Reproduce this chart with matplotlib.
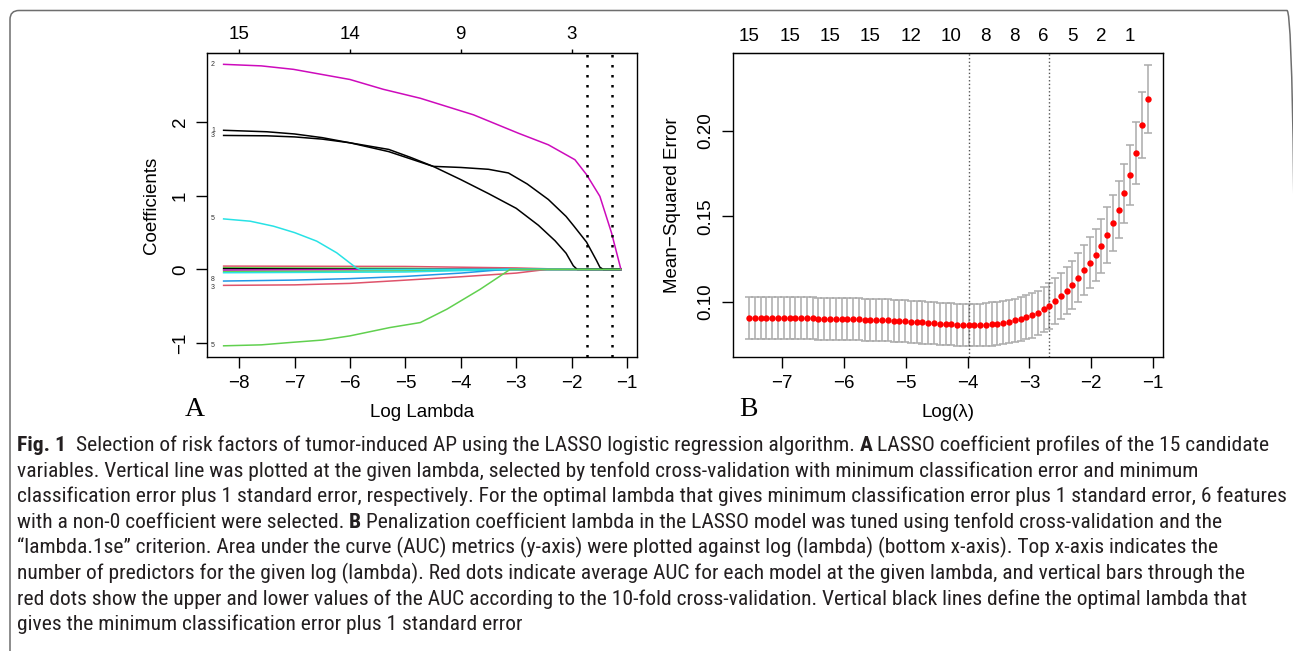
import matplotlib
matplotlib.use("Agg")
import matplotlib.pyplot as plt
from matplotlib import font_manager as fm
from matplotlib.patches import FancyBboxPatch

W, H = 1293, 651

# ---- panel A: coefficient paths (log lambda, coefficient) ----
A_PATHS = [
    # (colour, label, x, y)
    ("#DF536B", "", [-8.28, -5.0, -3.0, -2.0, -1.11], [0.045, 0.040, 0.020, 0.0, 0.0]),
    ("#61D04F", "", [-8.28, -5.0, -3.5, -1.11], [0.023, 0.015, 0.0, 0.0]),
    ("#000000", "", [-8.28, -4.5, -1.11], [0.010, 0.0, 0.0]),
    ("#CD0BBC", "", [-8.28, -4.0, -1.11], [-0.010, 0.0, 0.0]),
    ("#61D04F", "", [-8.28, -5.0, -3.2, -1.11], [-0.030, -0.020, 0.0, 0.0]),
    ("#28E2E5", "", [-8.28, -5.0, -3.1, -1.11], [-0.045, -0.035, 0.0, 0.0]),
    ("#2297E6", "8", [-8.28, -7.0, -6.0, -5.0, -4.0, -3.2, -1.11],
     [-0.158, -0.145, -0.125, -0.095, -0.050, 0.0, 0.0]),
    ("#DF536B", "3", [-8.28, -7.0, -6.0, -5.09, -4.0, -3.0, -2.45, -1.11],
     [-0.217, -0.210, -0.190, -0.150, -0.100, -0.050, 0.0, 0.0]),
    ("#28E2E5", "5", [-8.28, -7.8, -7.38, -7.0, -6.6, -6.24, -5.89, -5.82, -1.11],
     [0.686, 0.655, 0.587, 0.500, 0.384, 0.226, 0.023, 0.0, 0.0]),
    ("#000000", "1", [-8.28, -7.5, -7.0, -6.5, -6.0, -5.3, -4.9, -4.5, -4.0, -3.5, -3.14,
                      -2.8, -2.42, -2.1, -1.96, -1.73, -1.55, -1.49, -1.43, -1.11],
     [1.89, 1.87, 1.84, 1.79, 1.72, 1.60, 1.50, 1.40, 1.385, 1.36, 1.31,
      1.16, 0.95, 0.72, 0.59, 0.37, 0.12, 0.03, 0.0, 0.0]),
    ("#000000", "3", [-8.28, -7.5, -7.0, -6.5, -6.0, -5.3, -4.9, -4.5, -4.0, -3.5, -3.0,
                      -2.6, -2.3, -2.1, -1.97, -1.9, -1.11],
     [1.82, 1.815, 1.80, 1.77, 1.72, 1.63, 1.52, 1.40, 1.22, 1.03, 0.83,
      0.60, 0.39, 0.22, 0.05, 0.0, 0.0]),
    ("#CD0BBC", "2", [-8.28, -7.6, -7.02, -6.0, -5.40, -4.73, -3.77, -2.96, -2.42, -1.94,
                      -1.73, -1.49, -1.28, -1.11],
     [2.786, 2.765, 2.718, 2.58, 2.447, 2.325, 2.10, 1.85, 1.693, 1.49,
      1.287, 0.993, 0.497, 0.0]),
    ("#61D04F", "5", [-8.28, -7.6, -7.08, -6.5, -6.0, -5.28, -4.73, -4.25, -3.65, -3.11, -1.11],
     [-1.038, -1.025, -0.993, -0.96, -0.903, -0.79, -0.722, -0.54, -0.27, 0.0, 0.0]),
]
# small vertical nudges for the tiny path labels so they do not collide
A_LABEL_NUDGE = {"8": 0.025, "3": -0.025}
A_VLINES = [-1.72, -1.27]
A_TOP_POS = [-8, -6, -4, -2]
A_TOP_LAB = ["15", "14", "9", "3"]

# ---- panel B: cross-validation curve ----
B_LOGLAM = [-7.534, -7.441, -7.347, -7.254, -7.160, -7.067, -6.974, -6.880, -6.787, -6.693,
            -6.600, -6.507, -6.413, -6.320, -6.226, -6.133, -6.040, -5.946, -5.853, -5.759,
            -5.666, -5.573, -5.479, -5.386, -5.292, -5.199, -5.106, -5.012, -4.919, -4.825,
            -4.732, -4.639, -4.545, -4.452, -4.358, -4.265, -4.172, -4.078, -3.985, -3.891,
            -3.798, -3.705, -3.611, -3.518, -3.424, -3.331, -3.238, -3.144, -3.051, -2.957,
            -2.864, -2.771, -2.677, -2.584, -2.490, -2.397, -2.304, -2.210, -2.117, -2.023,
            -1.930, -1.837, -1.743, -1.650, -1.556, -1.463, -1.370, -1.276, -1.183, -1.089]
B_MSE = [0.0906, 0.0906, 0.0906, 0.0906, 0.0906, 0.0905, 0.0905, 0.0905, 0.0904, 0.0904,
         0.0903, 0.0903, 0.0902, 0.0902, 0.0901, 0.0900, 0.0900, 0.0899, 0.0898, 0.0897,
         0.0896, 0.0895, 0.0894, 0.0893, 0.0891, 0.0890, 0.0888, 0.0886, 0.0884, 0.0882,
         0.0879, 0.0877, 0.0875, 0.0872, 0.0870, 0.0868, 0.0866, 0.0865, 0.0864, 0.0864,
         0.0865, 0.0867, 0.0870, 0.0873, 0.0878, 0.0884, 0.0891, 0.0899, 0.0909, 0.0921,
         0.0935, 0.0955, 0.0977, 0.1004, 0.1033, 0.1064, 0.1098, 0.1140, 0.1185, 0.1230,
         0.1273, 0.1326, 0.1390, 0.1462, 0.1540, 0.1634, 0.1740, 0.1870, 0.2033, 0.2187]
B_SD = [0.0123] * 38 + [0.0124, 0.0124, 0.0125, 0.0125, 0.0126, 0.0126, 0.0127, 0.0127,
                        0.0128, 0.0128, 0.0129, 0.0130, 0.0131, 0.0133,
                        0.0134, 0.0134, 0.0135, 0.0137, 0.0140, 0.0144, 0.0147, 0.0150,
                        0.0154, 0.0158, 0.0162, 0.0165, 0.0169, 0.0172, 0.0176, 0.0183,
                        0.0193, 0.0197]
B_VLINES = [-3.985, -2.677]
B_TOP_POS = [-7.534, -6.880, -6.226, -5.573, -4.919, -4.265, -3.705, -3.238, -2.771, -2.304,
             -1.837, -1.370]
B_TOP_LAB = ["15", "15", "15", "15", "12", "10", "8", "8", "6", "5", "2", "1"]

CAPTION = [
    [("Fig. 1", True), ("Selection of risk factors of tumor-induced AP using the LASSO logistic regression algorithm.", False),
     ("A", True), ("LASSO coefficient profiles of the 15 candidate", False)],
    [("variables. Vertical line was plotted at the given lambda, selected by tenfold cross-validation with minimum classification error and minimum", False)],
    [("classification error plus 1 standard error, respectively. For the optimal lambda that gives minimum classification error plus 1 standard error, 6 features", False)],
    [("with a non-0 coefficient were selected.", False), ("B", True),
     ("Penalization coefficient lambda in the LASSO model was tuned using tenfold cross-validation and the", False)],
    [("\u201clambda.1se\u201d criterion. Area under the curve (AUC) metrics (y-axis) were plotted against log (lambda) (bottom x-axis). Top x-axis indicates the", False)],
    [("number of predictors for the given log (lambda). Red dots indicate average AUC for each model at the given lambda, and vertical bars through the", False)],
    [("red dots show the upper and lower values of the AUC according to the 10-fold cross-validation. Vertical black lines define the optimal lambda that", False)],
    [("gives the minimum classification error plus 1 standard error", False)],
]
# right end (px) of each caption line in the reference
CAP_END = [1275, 1232, 1281, 1237, 1229, 1250, 1255, 640]


def pick_font(names):
    for n in names:
        try:
            fm.findfont(fm.FontProperties(family=n), fallback_to_default=False)
            return n
        except Exception:
            pass
    return "DejaVu Sans"


def caption_family():
    for n in ["Liberation Sans Narrow", "Arial Narrow", "Roboto Condensed"]:
        try:
            fm.findfont(fm.FontProperties(family=n), fallback_to_default=False)
            return n, "normal"
        except Exception:
            pass
    f = fm.findfont(fm.FontProperties(family="DejaVu Sans", stretch="condensed"))
    if "Condensed" in f:
        return "DejaVu Sans", "condensed"
    return pick_font(["Roboto", "Liberation Sans"]), "normal"


RFONT = pick_font(["Liberation Sans", "Arial", "DejaVu Sans"])
SERIF = pick_font(["Liberation Serif", "DejaVu Serif"])
CAPFAM, CAPSTRETCH = caption_family()
plt.rcParams["font.family"] = RFONT
TICK = 13.5


def style_axes(ax):
    for s in ax.spines.values():
        s.set_linewidth(1.0)
    ax.tick_params(direction="out", length=8, width=1.0, labelsize=TICK, pad=5)
    for lab in ax.get_yticklabels():
        lab.set_rotation(90)
        lab.set_va("center")


def px(x, y):
    return x / W, 1 - y / H


fig = plt.figure(figsize=(W / 100, H / 100), dpi=100)

# ---------- panel A ----------
axA = fig.add_axes([207 / W, 1 - 357 / H, 430 / W, 304 / H])
for col, lab, xs, ys in A_PATHS:
    axA.plot(xs, ys, color=col, lw=1.1)
    if lab:
        axA.text(-8.47, ys[0] + A_LABEL_NUDGE.get(lab, 0) * (lab in "83" and ys[0] < 0),
                 lab, fontsize=5, color="#333333", ha="center", va="center")
for v in A_VLINES:
    axA.axvline(v, color="black", lw=1.8, linestyle=(0, (1, 3)), dash_capstyle="butt")
axA.set_xlim(-8.58, -0.82)
axA.set_ylim(-1.19, 2.94)
axA.set_xticks(range(-8, 0))
axA.set_xticklabels([f"\u2212{abs(t)}" for t in range(-8, 0)])
axA.set_yticks([-1, 0, 1, 2])
axA.set_yticklabels(["\u22121", "0", "1", "2"])
style_axes(axA)
topA = axA.secondary_xaxis("top")
topA.set_xticks(A_TOP_POS)
topA.set_xticklabels(A_TOP_LAB)
topA.tick_params(direction="out", length=3, width=1.0, labelsize=TICK, pad=4)
axA.text(0.5, -0.181, "Log Lambda", transform=axA.transAxes, ha="center", va="center", fontsize=TICK)
axA.text(-0.128, 0.5, "Coefficients", transform=axA.transAxes, ha="center", va="center",
         rotation=90, fontsize=TICK)

# ---------- panel B ----------
axB = fig.add_axes([732.7 / W, 1 - 357 / H, 430.3 / W, 304 / H])
axB.errorbar(B_LOGLAM, B_MSE, yerr=B_SD, fmt="none", ecolor="#ABABAB", elinewidth=1.1,
             capsize=2.9, capthick=1.1)
axB.plot(B_LOGLAM, B_MSE, "o", color="red", ms=4.6, mec="none", zorder=3)
for v in B_VLINES:
    axB.axvline(v, color="#555555", lw=1.0, linestyle=":")
axB.set_xlim(-7.80, -0.84)
axB.set_ylim(0.0677, 0.2456)
axB.set_xticks(range(-7, 0))
axB.set_xticklabels([f"\u2212{abs(t)}" for t in range(-7, 0)])
axB.set_yticks([0.10, 0.15, 0.20])
axB.set_yticklabels(["0.10", "0.15", "0.20"])
style_axes(axB)
topB = axB.secondary_xaxis("top")
topB.set_xticks(B_TOP_POS)
topB.set_xticklabels(B_TOP_LAB)
topB.tick_params(length=0, labelsize=TICK, pad=6)
axB.text(0.5, -0.181, "Log(\u03bb)", transform=axB.transAxes, ha="center", va="center", fontsize=TICK)
axB.text(-0.141, 0.5, "Mean\u2212Squared Error", transform=axB.transAxes, ha="center",
         va="center", rotation=90, fontsize=TICK)

fig.text(*px(195, 410), "A", family=SERIF, fontsize=20, ha="center", va="center")
fig.text(*px(748, 410), "B", family=SERIF, fontsize=20, ha="center", va="center")

# ---------- caption ----------
r = fig.canvas.get_renderer()


def cap_fp(size, bold):
    return fm.FontProperties(family=CAPFAM, stretch=CAPSTRETCH, size=size,
                             weight="bold" if bold else "normal")


def text_w(s, size, bold):
    t = fig.text(0, 0, s, fontproperties=cap_fp(size, bold))
    w = t.get_window_extent(r).width
    t.remove()
    return w


def gap(i, s, size):
    sp = text_w("x x", size, False) - text_w("xx", size, False)
    return sp * (2 if i == 0 and s.startswith("Fig") else 1)


def line_width(parts, size):
    tot = 0
    for i, (s, b) in enumerate(parts):
        tot += text_w(s, size, b)
        if i < len(parts) - 1:
            tot += gap(i, s, size)
    return tot


base = 13.0
cap_size = base * min((end - 17) / line_width(parts, base) for parts, end in zip(CAPTION, CAP_END))
for k, parts in enumerate(CAPTION):
    x = 17
    y = 451 + 25.6 * k
    for i, (s, b) in enumerate(parts):
        fig.text(*px(x, y), s, fontproperties=cap_fp(cap_size, b), color="#231F20",
                 ha="left", va="baseline")
        x += text_w(s, cap_size, b) + gap(i, s, cap_size)

# ---------- frame ----------
frame = FancyBboxPatch((10 / 100, -0.5), (1296 - 10) / 100, (640.5 / 100) + 0.5,
                       boxstyle="round,pad=0,rounding_size=0.09", transform=fig.dpi_scale_trans,
                       fill=False, edgecolor="#6E6E6E", lw=1.1)
fig.add_artist(frame)

fig.savefig("out.png", dpi=100)
